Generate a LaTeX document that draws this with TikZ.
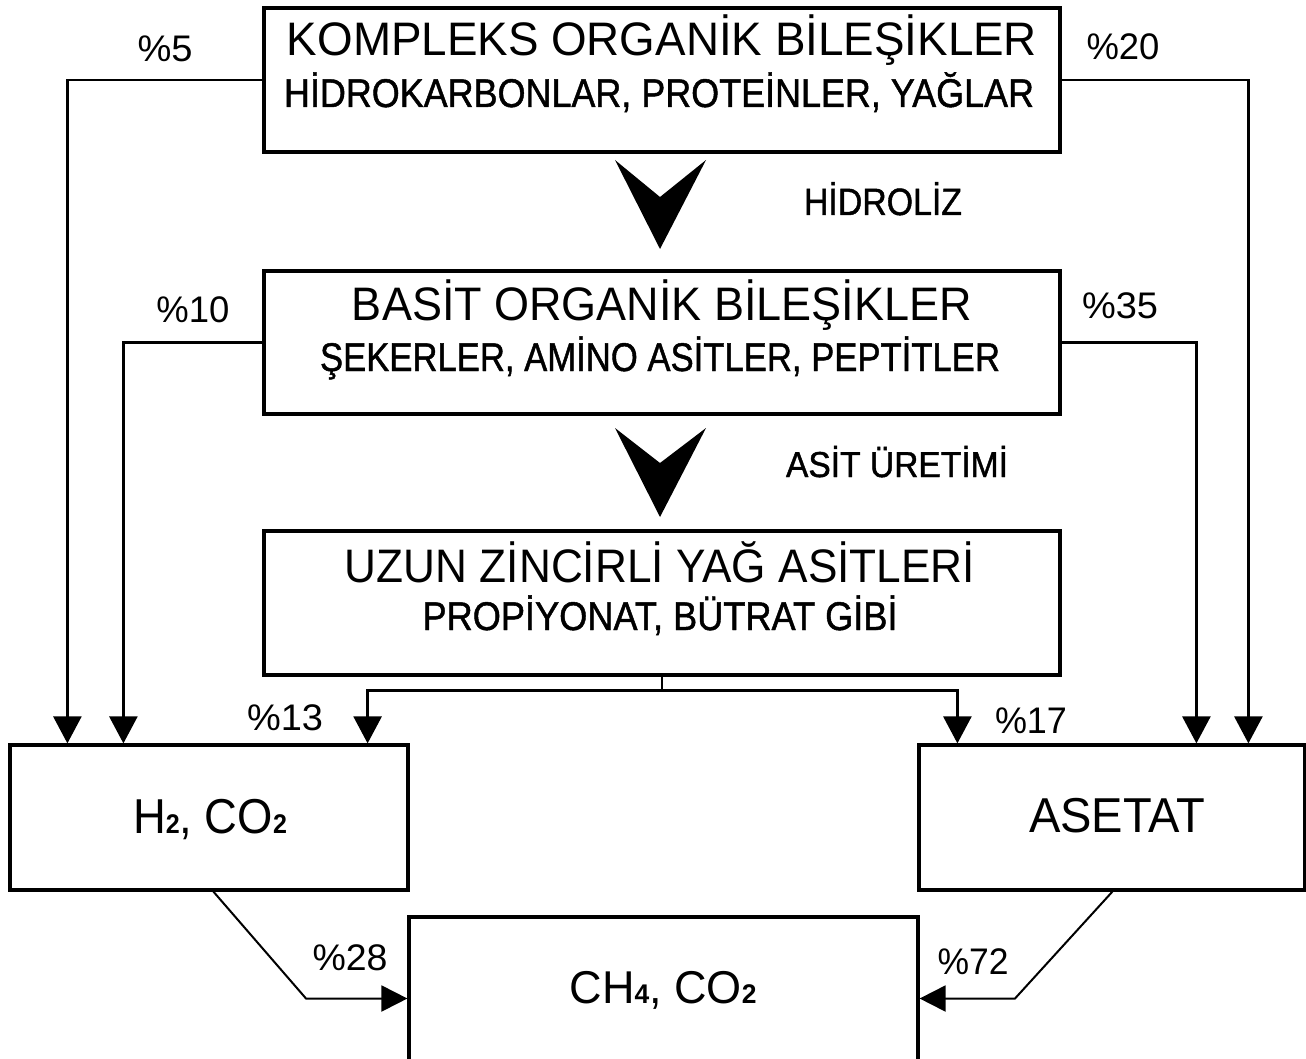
\documentclass[tikz,border=0pt]{standalone}
\usepackage{fontspec}
\usepackage{graphicx}
\setmainfont{Liberation Sans}
\newfontfamily\medfont[FakeBold=1.2]{Liberation Sans}
\usetikzlibrary{arrows.meta}
\newcommand\fw[2]{\resizebox{#1}{\height}{#2}}
\newcommand\sz[1]{\fontsize{#1}{#1}\selectfont}
\newcommand\sub[1]{{\fontsize{27}{27}\selectfont\bfseries #1}}
\begin{document}
\begin{tikzpicture}[x=1pt,y=-1pt,
  box/.style={draw=black, line width=3.2pt, inner sep=0pt, fill=none},
  txt/.style={inner sep=0pt, anchor=base, text=black},
  conn/.style={draw=black, line width=2.6pt, -{Triangle[length=27pt,width=28pt]}},
  plain/.style={draw=black, line width=2.6pt},
  diag/.style={draw=black, line width=2pt, -{Triangle[length=26pt,width=26pt]}},
  chev/.style={fill=black}]
\useasboundingbox (0,0) rectangle (1306,1059);
\fill[white] (0,0) rectangle (1306,1059);

% boxes
\node[box, minimum width=796pt, minimum height=144pt] (b1) at (662,80) {};
\node[box, minimum width=796pt, minimum height=143pt] (b2) at (662,342.5) {};
\node[box, minimum width=796pt, minimum height=144pt] (b3) at (662,603) {};
\node[box, minimum width=398pt, minimum height=145pt] (h2) at (209,817.5) {};
\node[box, minimum width=386pt, minimum height=145pt] (as) at (1112,817.5) {};
\node[box, minimum width=509pt, minimum height=163pt] (ch) at (663.5,998.5) {};

% box texts
\node[txt] (t1a) at (662,56) {\fw{750pt}{\sz{47}KOMPLEKS ORGANİK BİLEŞİKLER}};
\node[txt] (t1b) at (659,107) {\fw{750pt}{\sz{40}\medfont HİDROKARBONLAR, PROTEİNLER, YAĞLAR}};
\node[txt] (t2a) at (662,320) {\fw{620pt}{\sz{47}BASİT ORGANİK BİLEŞİKLER}};
\node[txt] (t2b) at (660,371) {\fw{680pt}{\sz{40}\medfont ŞEKERLER, AMİNO ASİTLER, PEPTİTLER}};
\node[txt] (t3a) at (660,582) {\fw{630pt}{\sz{47}UZUN ZİNCİRLİ YAĞ ASİTLERİ}};
\node[txt] (t3b) at (660,630) {\fw{475pt}{\sz{40}\medfont PROPİYONAT, BÜTRAT GİBİ}};
\node[txt] (th) at (210,833) {\fw{154pt}{\sz{49}H\sub{2}, CO\sub{2}}};
\node[txt] (ta) at (1117,832) {\fw{176pt}{\sz{49}ASETAT}};
\node[txt] (tc) at (663,1003) {\fw{187pt}{\sz{46}CH\sub{4}, CO\sub{2}}};

% process labels
\node[txt] (hid) at (883,215) {\fw{158pt}{\sz{38}\medfont HİDROLİZ}};
\node[txt] (asu) at (897,477) {\fw{222pt}{\sz{36}\medfont ASİT ÜRETİMİ}};

% percentages
\node[txt] (p5) at (165,62) {\fw{55pt}{\sz{37}\%5}};
\node[txt] (p20) at (1123,60) {\fw{73pt}{\sz{37}\%20}};
\node[txt] (p10) at (193,322) {\fw{73pt}{\sz{37}\%10}};
\node[txt] (p35) at (1120,318) {\fw{76pt}{\sz{37}\%35}};
\node[txt] (p13) at (285,730) {\fw{76pt}{\sz{37}\%13}};
\node[txt] (p17) at (1031,733) {\fw{72pt}{\sz{37}\%17}};
\node[txt] (p28) at (350,970) {\fw{75pt}{\sz{37}\%28}};
\node[txt] (p72) at (973,974) {\fw{71pt}{\sz{37}\%72}};

% chevrons
\fill[chev] (615,160) -- (660,197) -- (706,160) -- (660,249) -- cycle;
\fill[chev] (615,428) -- (660,463) -- (706,428) -- (660,517) -- cycle;

% connectors
\draw[conn] (b1.west) -| ([xshift=59pt]h2.north west);
\draw[conn] (b2.west) -| ([xshift=115pt]h2.north west);
\draw[conn] (b1.east) -| ([xshift=331pt]as.north west);
\draw[conn] (b2.east) -| ([xshift=279pt]as.north west);
\draw[plain] (b3.south) -- ++(0,14) coordinate (sp);
\draw[conn] (sp) -| ([xshift=-42pt]h2.north east);
\draw[conn] (sp) -| ([xshift=40pt]as.north west);

\coordinate (k1) at (306,998.5);
\coordinate (k2) at (1015,998.5);
\draw[diag] ([xshift=205pt]h2.south west) -- (k1) -- (ch.west);
\draw[diag] ([xshift=195pt]as.south west) -- (k2) -- (ch.east);
\end{tikzpicture}
\end{document}
